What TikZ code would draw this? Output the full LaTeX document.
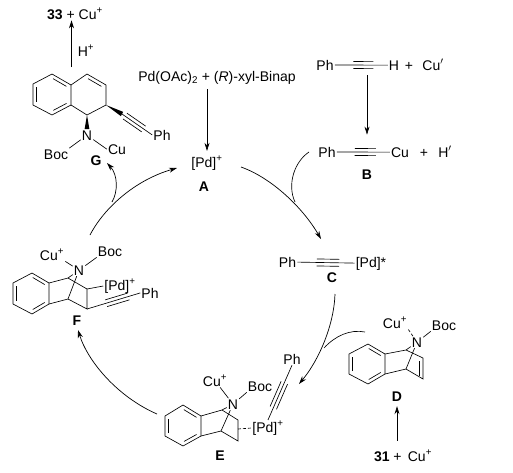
\documentclass[tikz,border=0pt]{standalone}
\usepackage{fontspec}
\setmainfont{Liberation Sans}
\usetikzlibrary{arrows.meta, calc}
\newcommand{\plusup}{\textsuperscript{+}}
% parallel strokes of a triple bond
\newcommand{\triplebars}[4]{%
  \draw[bond] ($(#1)!#3!(#2)!3.5pt!90:(#2)$) -- ($(#1)!#4!(#2)!3.5pt!90:(#2)$);
  \draw[bond] ($(#1)!#3!(#2)!3.5pt!-90:(#2)$) -- ($(#1)!#4!(#2)!3.5pt!-90:(#2)$);}
% inner stroke of a double bond
\newcommand{\innerbar}[3]{%
  \draw[bond] ($(#1)!.15!(#2)!3.5pt!#3:(#2)$) -- ($(#1)!.85!(#2)!3.5pt!#3:(#2)$);}
\newcommand{\wedgebond}[2]{%
  \fill (#1) -- ($(#2)!2.4pt!90:(#1)$) -- ($(#2)!2.4pt!-90:(#1)$) -- cycle;}

\begin{document}
\begin{tikzpicture}[x=1pt, y=-1pt,
    font=\fontsize{14}{16}\selectfont,
    bond/.style={line width=0.65pt},
    arr/.style={line width=0.7pt, -{Stealth[length=8pt,width=5pt]}},
    atom/.style={inner sep=1pt, anchor=base},
    tag/.style={inner sep=1pt, anchor=base, font=\fontsize{14}{16}\selectfont\bfseries}]
  \useasboundingbox (0,0) rectangle (513,472);

  % product and G
  \node[atom] (top) at (75,19) {\textbf{33} + Cu\plusup};
  \node[atom] (hplus) at (86,56) {H\plusup};
  \coordinate (ga) at (52,74);  \coordinate (gb) at (71,85);
  \coordinate (gc) at (71,105); \coordinate (gd) at (52,115);
  \coordinate (ge) at (33,105); \coordinate (gf) at (33,84);
  \coordinate (gg) at (87,74);  \coordinate (gh) at (106,85);
  \coordinate (gi) at (106,105);\coordinate (gj) at (87,115);
  \coordinate (gk) at (122,114);\coordinate (gtop) at (71.5,67);
  \node[atom] (nG) at (87,140) {N};
  \node[atom] (phG) at (162,140) {Ph};
  \node[atom] (bocG) at (56,159) {Boc};
  \node[atom] (cuG) at (117,154) {Cu};
  \node[tag] (labG) at (96,165) {G};
  \draw[bond] (ga) -- (gb) -- (gc) -- (gd) -- (ge) -- (gf) -- cycle;
  \draw[bond] (gb) -- (gg) -- (gh) -- (gi) -- (gj) -- (gc);
  \innerbar{ga}{gb}{-90}
  \innerbar{gc}{gd}{-90}
  \innerbar{ge}{gf}{-90}
  \innerbar{gg}{gh}{-90}
  \wedgebond{gi}{gk}
  \wedgebond{gj}{nG.north}
  \draw[bond] (gk) -- (phG.west);
  \triplebars{gk}{phG.west}{.1}{.72}
  \draw[bond] (nG) -- (bocG.north east);
  \draw[bond] (nG) -- (cuG.west);
  \draw[arr] (gtop) -- (gtop |- top.south);

  % catalyst
  \node[atom] (binap) at (217,81) {Pd(OAc)\textsubscript{2} + (\textit{R})-xyl-Binap};
  \node[atom] (pdA) at (207,167) {[Pd]\plusup};
  \node[tag] (labA) at (204,191) {A};
  \draw[arr, shorten <=4pt, shorten >=4pt] (pdA.north |- binap.south) -- (pdA.north);

  % B
  \node[atom] (phH) at (325,70) {Ph};
  \node[atom] (hH) at (394,70) {H};
  \node[atom] (plusH) at (409,70) {+};
  \node[atom] (cuH) at (433,70) {Cu$'$};
  \draw[bond] (phH) -- (hH);
  \triplebars{phH}{hH}{.41}{.70}
  \node[atom] (phB) at (327,157) {Ph};
  \node[atom] (cuB) at (400,157) {Cu};
  \node[atom] (plusB) at (424,157) {+};
  \node[atom] (hB) at (445,157) {H$'$};
  \node[tag] (labB) at (367,179) {B};
  \draw[bond] (phB) -- (cuB);
  \triplebars{phB}{cuB}{.38}{.67}
  \draw[arr, shorten <=4pt, shorten >=11pt] (labB.north |- hH.south) -- (labB.north |- phB.north);

  % C
  \node[atom] (phC) at (287.5,267) {Ph};
  \node[atom] (pdC) at (371,267) {[Pd]*};
  \node[tag] (labC) at (332,282) {C};
  \draw[bond] (phC) -- (pdC);
  \triplebars{phC}{pdC}{.35}{.62}

  % D
  \coordinate (da) at (368,344); \coordinate (db) at (385,354);
  \coordinate (dc) at (385,374); \coordinate (dd) at (368,384);
  \coordinate (de) at (349,374); \coordinate (df) at (349,354);
  \coordinate (dg) at (406,350); \coordinate (dh) at (406,369);
  \coordinate (di) at (423,358); \coordinate (dj) at (423,379);
  \node[atom] (nD) at (417,347) {N};
  \node[atom] (cuD) at (395,328) {Cu\plusup};
  \node[atom] (bocD) at (444,330) {Boc};
  \node[tag] (labD) at (397,401) {D};
  \node[atom] (botD) at (403,461) {\textbf{31} + \,Cu\plusup};
  \draw[bond] (da) -- (db) -- (dc) -- (dd) -- (de) -- (df) -- cycle;
  \draw[bond] (db) -- (dg) -- (nD);
  \draw[bond] (dc) -- (dh) -- (nD);
  \draw[bond] (dg) -- (di) -- (dj) -- (dh);
  \innerbar{da}{db}{-90}
  \innerbar{dc}{dd}{-90}
  \innerbar{de}{df}{-90}
  \innerbar{di}{dj}{-90}
  \draw[bond, densely dashed] (nD) -- (cuD.south east);
  \draw[bond] (nD) -- (bocD.south west);
  \draw[arr, shorten <=8pt, shorten >=4pt] (labD.south |- botD.north) -- (labD.south);

  % E
  \coordinate (ea) at (183,405); \coordinate (eb) at (201,416);
  \coordinate (ec) at (201,436); \coordinate (ed) at (183,446);
  \coordinate (ee) at (165,436); \coordinate (ef) at (165,416);
  \coordinate (eg) at (222,410); \coordinate (eh) at (221,431);
  \coordinate (ei) at (238,420); \coordinate (ej) at (238,441);
  \coordinate (ek) at (238,429);
  \node[atom] (nE) at (233,409) {N};
  \node[atom] (cuE) at (215,386) {Cu\plusup};
  \node[atom] (bocE) at (260,391) {Boc};
  \node[atom] (pdE) at (268,432) {[Pd]\plusup};
  \node[atom] (phE) at (292,364) {Ph};
  \node[tag] (labE) at (220,460) {E};
  \draw[bond] (ea) -- (eb) -- (ec) -- (ed) -- (ee) -- (ef) -- cycle;
  \draw[bond] (eb) -- (eg) -- (nE);
  \draw[bond] (ec) -- (eh) -- (nE);
  \draw[bond] (eg) -- (ei) -- (ej) -- (eh);
  \innerbar{ea}{eb}{-90}
  \innerbar{ec}{ed}{-90}
  \innerbar{ee}{ef}{-90}
  \draw[bond] (nE) -- (cuE);
  \draw[bond] (nE) -- (bocE.south west);
  \draw[bond, densely dashed] (ek) -- (pdE.west);
  \draw[bond] (pdE.north) -- (phE.south);
  \triplebars{phE.south}{pdE.north}{.32}{.78}

  % F
  \coordinate (fa) at (32,273);  \coordinate (fb) at (49,283);
  \coordinate (fc) at (49,304);  \coordinate (fd) at (32,314);
  \coordinate (fe) at (13,304);  \coordinate (ff) at (13,283);
  \coordinate (fg) at (68,278);  \coordinate (fh) at (68,299);
  \coordinate (fi) at (87,289);  \coordinate (fj) at (87,309);
  \node[atom] (nF) at (79,275) {N};
  \node[atom] (cuF) at (52,260) {Cu\plusup};
  \node[atom] (bocF) at (110,256) {Boc};
  \node[atom] (pdF) at (120,290) {[Pd]\plusup};
  \node[atom] (phF) at (150,298) {Ph};
  \node[tag] (labF) at (77,325) {F};
  \draw[bond] (fa) -- (fb) -- (fc) -- (fd) -- (fe) -- (ff) -- cycle;
  \draw[bond] (fb) -- (fg) -- (nF);
  \draw[bond] (fc) -- (fh) -- (nF);
  \draw[bond] (fg) -- (fi) -- (fj) -- (fh);
  \innerbar{fa}{fb}{-90}
  \innerbar{fc}{fd}{-90}
  \innerbar{fe}{ff}{-90}
  \draw[bond] (fi) -- (pdF.west);
  \draw[bond] (fj) -- (phF.west);
  \triplebars{fj}{phF.west}{.36}{.78}
  \draw[bond] (nF) -- (cuF.south east);
  \draw[bond] (nF) -- (bocF.south west);

  % cycle arrows
  \coordinate (aOut) at (241,167); \coordinate (cIn) at (321,239);
  \coordinate (bOut) at (309,152); \coordinate (bEnd) at (295,202);
  \coordinate (cOut) at (335,294); \coordinate (eIn) at (299,384);
  \coordinate (dOut) at (365,332); \coordinate (dEnd) at (324,348);
  \coordinate (eOut) at (157,414); \coordinate (fIn) at (78,330);
  \coordinate (fOut) at (90,235);  \coordinate (aIn) at (177,168);
  \coordinate (gStart) at (112,202); \coordinate (gIn) at (107,163);
  \draw[arr] (aOut) .. controls (272,178) and (303,208) .. (cIn);
  \draw[bond] (bOut) .. controls (294,162) and (287,185) .. (bEnd);
  \draw[arr] (cOut) .. controls (334,325) and (319,360) .. (eIn);
  \draw[bond] (dOut) .. controls (350,329) and (335,336) .. (dEnd);
  \draw[arr] (eOut) .. controls (118,397) and (88,362) .. (fIn);
  \draw[arr] (fOut) .. controls (104,208) and (135,180) .. (aIn);
  \draw[arr] (gStart) .. controls (118,192) and (118,175) .. (gIn);
\end{tikzpicture}
\end{document}
